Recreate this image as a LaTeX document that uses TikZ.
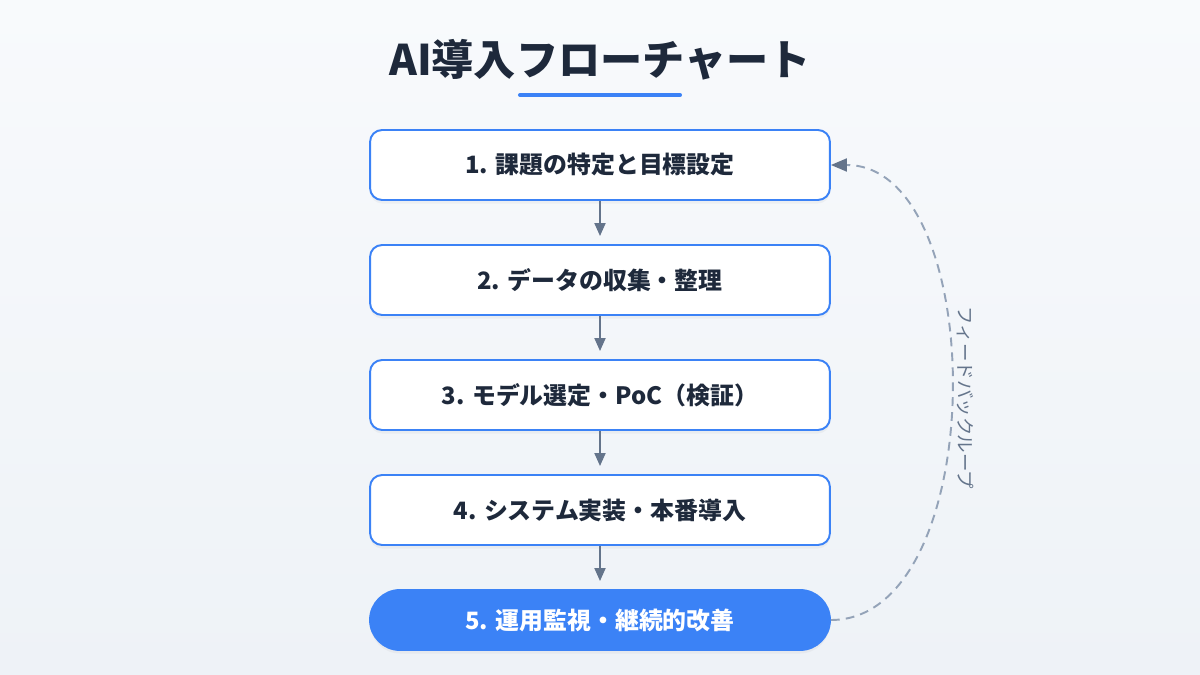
\documentclass[tikz,border=0pt]{standalone}
\usepackage{fontspec}
\setmainfont{Noto Sans CJK JP}
\usetikzlibrary{arrows.meta,shadows}
\definecolor{bgtop}{HTML}{F8FAFC}
\definecolor{bgbot}{HTML}{EEF2F7}
\definecolor{ink}{HTML}{1E293B}
\definecolor{accent}{HTML}{3B82F6}
\definecolor{slate}{HTML}{64748B}
\definecolor{dashc}{HTML}{94A3B8}

\begin{document}
\begin{tikzpicture}[x=0.02cm, y=-0.02cm]
  \shade [top color=bgtop, bottom color=bgbot] (0,0) rectangle (1200,675);  % Hintergrund.

  \tikzstyle{box}=[rectangle, draw=accent, line width=1.1pt, fill=white, rounded corners=0.24cm, minimum width=9.2cm, minimum height=1.4cm, font=\bfseries\fontsize{13.6pt}{16pt}\selectfont, text=ink, drop shadow={opacity=0.07, shadow xshift=0pt, shadow yshift=-2pt}]
  \tikzstyle{lastbox}=[box, fill=accent, text=white, rounded corners=0.6cm, minimum height=1.2cm]
  \tikzstyle{flow}=[draw=slate, line width=1.1pt, -{Triangle[length=0.26cm, width=0.22cm]}, shorten >=0.16cm]
  \tikzstyle{feedback}=[draw=dashc, line width=1.1pt, dash pattern=on 5pt off 3.5pt, -{Triangle[length=0.32cm, width=0.26cm, color=slate]}]
  \tikzstyle{looplabel}=[text=slate, font=\fontsize{10.5pt}{12pt}\selectfont, rotate=-90]

  \node[font=\bfseries\fontsize{24pt}{28pt}\selectfont, text=ink] (title) at (600,60) {AI導入フローチャート};
  \draw[accent, line width=2.3pt, line cap=round] (520,95) -- (680,95);

  \node[box]     (1) at (600,165) {1. 課題の特定と目標設定};
  \node[box]     (2) at (600,280) {2. データの収集・整理};
  \node[box]     (3) at (600,395) {3. モデル選定・PoC（検証）};
  \node[box]     (4) at (600,510) {4. システム実装・本番導入};
  \node[lastbox] (5) at (600,620) {5. 運用監視・継続的改善};

  \path (1) edge[flow] (2);
  \path (2) edge[flow] (3);
  \path (3) edge[flow] (4);
  \path (4) edge[flow] (5);

  \draw[feedback] (5.east) .. controls +(160,0) and +(160,0) .. (1.east);
  \node[looplabel] (fb) at (965,398) {フィードバックループ};
\end{tikzpicture}
\end{document}
